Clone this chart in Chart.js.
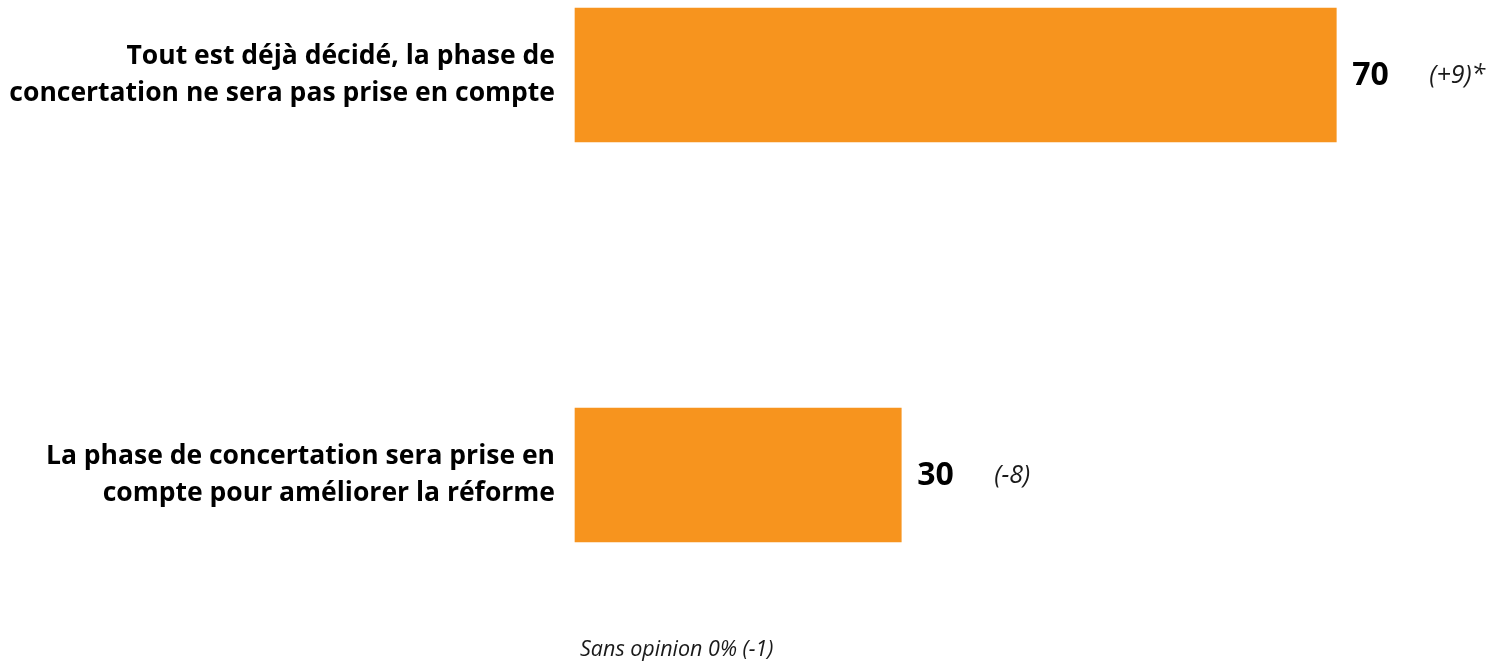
<!DOCTYPE html>
<html>
<head>
<meta charset="utf-8">
<script src="https://cdn.jsdelivr.net/npm/chart.js@4/dist/chart.umd.min.js"></script>
<style>
  html, body { margin: 0; padding: 0; background: #fff; }
  #wrap { position: relative; width: 1494px; height: 661px; }
</style>
</head>
<body>
<div id="wrap"><canvas id="barChart"></canvas></div>
<script>
// données
var categories = [
  ['Tout est déjà décidé, la phase de', 'concertation ne sera pas prise en compte'],
  ['La phase de concertation sera prise en', 'compte pour améliorer la réforme']
];
var values = [70, 30];
var changes = ['(+9)*', '(-8)'];
var footnote = 'Sans opinion 0% (-1)';

var orange = '#F7941E';

// valeurs + évolution à droite des barres
var valueLabels = {
  id: 'valueLabels',
  afterDatasetsDraw: function(chart) {
    var ctx = chart.ctx;
    var meta = chart.getDatasetMeta(0);
    ctx.save();
    ctx.textBaseline = 'middle';
    ctx.textAlign = 'left';
    meta.data.forEach(function(bar, i) {
      ctx.fillStyle = '#000';
      ctx.font = 'bold 32px "Open Sans"';
      ctx.fillText(values[i], bar.x + 16, bar.y + 1);
      ctx.fillStyle = '#1a1a1a';
      ctx.font = 'italic 25px "Open Sans"';
      ctx.fillText(changes[i], bar.x + 93, bar.y + 1);
    });
    ctx.font = 'italic 21.5px "Open Sans"';
    ctx.fillStyle = '#1a1a1a';
    ctx.fillText(footnote, chart.chartArea.left + 5, 650);
    ctx.restore();
  }
};

var barConfig = {
  type: 'bar',
  data: {
    labels: categories,
    datasets: [{
      data: values,
      backgroundColor: orange,
      barThickness: 134,
      clip: false
    }]
  },
  options: {
    indexAxis: 'y',
    responsive: true,
    maintainAspectRatio: false,
    animation: false,
    layout: { padding: { top: 75, bottom: 186, left: 0, right: 0 } },
    plugins: { legend: { display: false }, tooltip: { enabled: false } },
    scales: {
      x: {
        display: false,
        min: 0,
        max: 84.5
      },
      y: {
        offset: false,
        grid: { display: false },
        border: { display: false },
        afterFit: function(scale) { scale.width = 575; },
        ticks: {
          color: '#000',
          padding: 12,
          font: { family: '"Open Sans"', weight: 'bold', size: 26.5, lineHeight: 1.43 }
        }
      }
    }
  },
  plugins: [valueLabels]
};

var barChart = new Chart(document.getElementById('barChart'), barConfig);
</script>
</body>
</html>
